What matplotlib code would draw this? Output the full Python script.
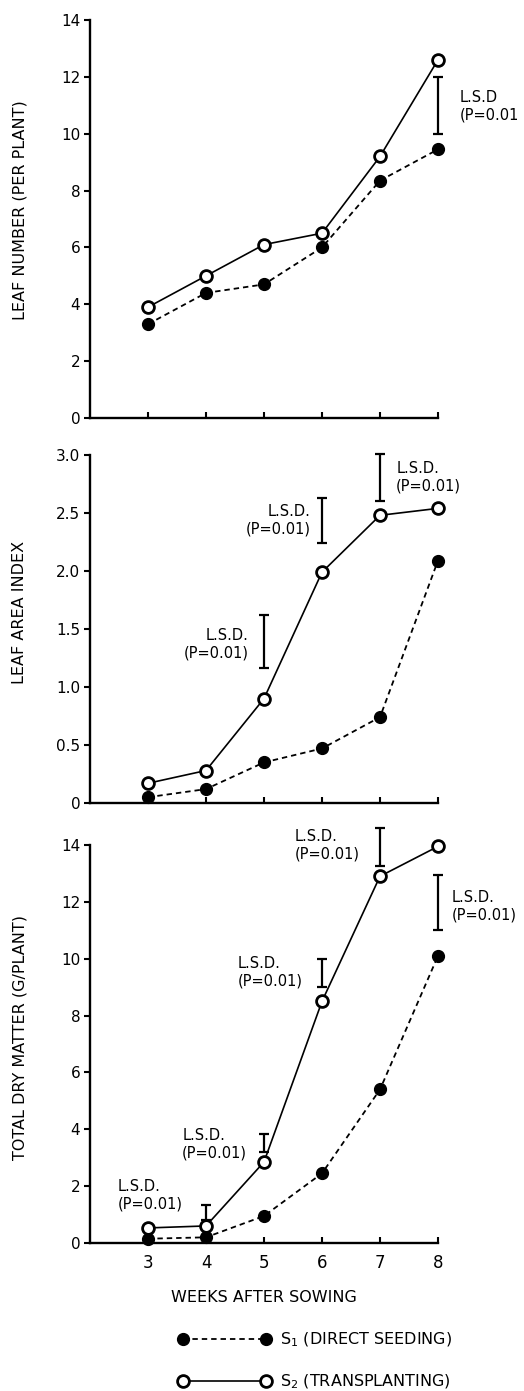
import matplotlib.pyplot as plt
from matplotlib.lines import Line2D

plt.rcParams["font.family"] = ["DejaVu Sans"]

weeks = [3, 4, 5, 6, 7, 8]

# leaf number per plant
leaf_s1 = [3.3, 4.4, 4.7, 6.0, 8.35, 9.45]
leaf_s2 = [3.9, 5.0, 6.1, 6.5, 9.2, 12.6]
# leaf area index
lai_s1 = [0.05, 0.12, 0.35, 0.47, 0.74, 2.09]
lai_s2 = [0.17, 0.28, 0.9, 1.99, 2.48, 2.54]
# total dry matter (g/plant)
tdm_s1 = [0.15, 0.2, 0.95, 2.45, 5.4, 10.1]
tdm_s2 = [0.53, 0.6, 2.85, 8.5, 12.9, 13.95]

# L.S.D. bars (week, low, high)
lsd_leaf = [(8, 10.0, 12.0)]
lsd_lai = [(5, 1.16, 1.62), (6, 2.24, 2.63), (7, 2.60, 3.01)]
lsd_tdm = [(4, 0.8, 1.35), (5, 3.2, 3.85), (6, 9.0, 10.0), (7, 13.25, 14.6), (8, 11.0, 12.95)]

# label text and placement (x, y, ha)
lsd_text = "L.S.D.\n(P=0.01)"
lsd_leaf_labels = [(8.38, 10.97, "left", "L.S.D\n(P=0.01")]
lsd_lai_labels = [(4.74, 1.37, "right", lsd_text), (5.80, 2.44, "right", lsd_text),
                  (7.28, 2.81, "left", lsd_text)]
lsd_tdm_labels = [(2.47, 1.69, "left", lsd_text), (3.59, 3.48, "left", lsd_text),
                  (4.55, 9.53, "left", lsd_text), (5.53, 14.0, "left", lsd_text),
                  (8.24, 11.85, "left", lsd_text)]

W, H = 524, 1391
fig = plt.figure(figsize=(W / 100, H / 100), dpi=100)


def make_axes(top_px, bottom_px):
    left, right = 90, 438
    return fig.add_axes([left / W, 1 - bottom_px / H, (right - left) / W, (bottom_px - top_px) / H])


def draw_panel(ax, s1, s2, ylim, yticks, yticklabels, lsd, labels):
    ax.plot(weeks, s1, color="black", lw=1.3, ls=(0, (3, 2.2)), marker="o", ms=8.5,
            mfc="black", mec="black", clip_on=False, zorder=3)
    ax.plot(weeks, s2, color="black", lw=1.2, ls="-", marker="o", ms=8.5,
            mfc="white", mec="black", mew=2.0, clip_on=False, zorder=4)
    for x, lo, hi in lsd:
        ax.errorbar([x], [(lo + hi) / 2], yerr=[(hi - lo) / 2], color="black", lw=1.6,
                    capsize=3.5, capthick=1.6, clip_on=False, fmt="none")
    for x, y, ha, txt in labels:
        ax.text(x, y, txt, ha=ha, va="center", fontsize=10.5, linespacing=1.2)
    ax.set_xlim(2, 8)
    ax.set_ylim(*ylim)
    ax.set_yticks(yticks)
    ax.set_yticklabels(yticklabels, fontsize=11)
    ax.set_xticks(weeks)
    for s in ["top", "right"]:
        ax.spines[s].set_visible(False)
    for s in ["left", "bottom"]:
        ax.spines[s].set_linewidth(1.7)
    ax.tick_params(axis="y", direction="out", length=4, width=1.5, pad=3)
    ax.tick_params(axis="x", direction="in", length=4, width=1.5)


ax1 = make_axes(20, 418)
draw_panel(ax1, leaf_s1, leaf_s2, (0, 14), range(0, 15, 2),
           [str(v) for v in range(0, 15, 2)], lsd_leaf, lsd_leaf_labels)
ax1.set_xticklabels([])

ax2 = make_axes(455, 803)
draw_panel(ax2, lai_s1, lai_s2, (0, 3.0), [0, 0.5, 1.0, 1.5, 2.0, 2.5, 3.0],
           ["0", "0.5", "1.0", "1.5", "2.0", "2.5", "3.0"], lsd_lai, lsd_lai_labels)
ax2.set_xticklabels([])

ax3 = make_axes(845, 1243)
draw_panel(ax3, tdm_s1, tdm_s2, (0, 14), range(0, 15, 2),
           [str(v) for v in range(0, 15, 2)], lsd_tdm, lsd_tdm_labels)
ax3.set_xticklabels([str(w) for w in weeks], fontsize=12)
ax3.tick_params(axis="x", pad=8)
ax3.set_xlabel("WEEKS AFTER SOWING", fontsize=11.5, labelpad=13)

fig.text(20 / W, 1 - 210 / H, "LEAF NUMBER (PER PLANT)", rotation=90, ha="center", va="center", fontsize=11.5)
fig.text(20 / W, 1 - 612 / H, "LEAF AREA INDEX", rotation=90, ha="center", va="center", fontsize=11.5)
fig.text(20 / W, 1 - 1038 / H, "TOTAL DRY MATTER (G/PLANT)", rotation=90, ha="center", va="center", fontsize=11.5)

handles = [
    Line2D([], [], color="black", lw=1.3, ls=(0, (3, 2.2)), marker="o", ms=8.5, mfc="black", mec="black"),
    Line2D([], [], color="black", lw=1.2, ls="-", marker="o", ms=8.5, mfc="white", mec="black", mew=2.0),
]
fig.legend(handles, ["S$_1$ (DIRECT SEEDING)", "S$_2$ (TRANSPLANTING)"], loc="upper left",
           bbox_to_anchor=(170 / W, 1 - 1323 / H), frameon=False, numpoints=2, handlelength=5.8,
           fontsize=11.5, labelspacing=1.45, borderpad=0, handletextpad=0.6)

fig.savefig("out.png", dpi=100)
